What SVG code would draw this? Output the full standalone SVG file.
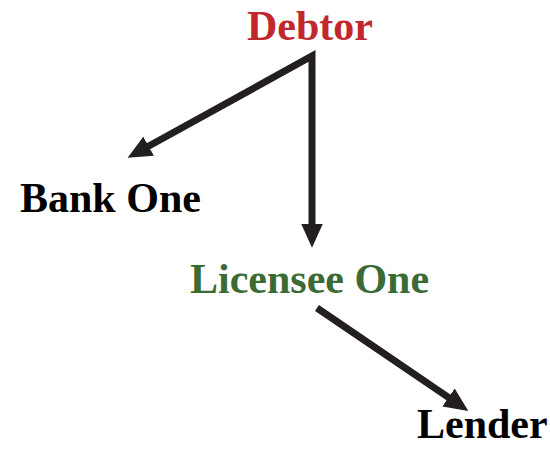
<svg xmlns="http://www.w3.org/2000/svg" width="550" height="455" viewBox="0 0 550 455">
<style>
.t{font-family:"Liberation Serif","Times New Roman",serif;font-weight:bold;font-size:42px}
.c{fill:none;stroke:#231f20;stroke-width:7;stroke-linejoin:miter}
</style>
<defs>
<marker id="ah" markerUnits="userSpaceOnUse" markerWidth="24" markerHeight="22" refX="4" refY="10" orient="auto-start-reverse" viewBox="0 0 22 20">
<path d="M0,0 L22,10 L0,20 z" fill="#231f20"/>
</marker>
</defs>
<rect width="550" height="455" fill="#ffffff"/>
<g id="connectors">
<path class="c" d="M144.8,148.3 L312,56 L312,228" marker-start="url(#ah)" marker-end="url(#ah)"/>
<path class="c" d="M317,308 L452.1,399.9" marker-end="url(#ah)"/>
</g>
<g id="debtor"><text class="t" x="247" y="40" fill="#c1272d">Debtor</text></g>
<g id="bank-one"><text class="t" x="20" y="212" fill="#000000">Bank One</text></g>
<g id="licensee-one"><text class="t" x="190" y="293" fill="#3b6b35">Licensee One</text></g>
<g id="lender"><text class="t" x="417" y="438" fill="#000000">Lender</text></g>
</svg>
